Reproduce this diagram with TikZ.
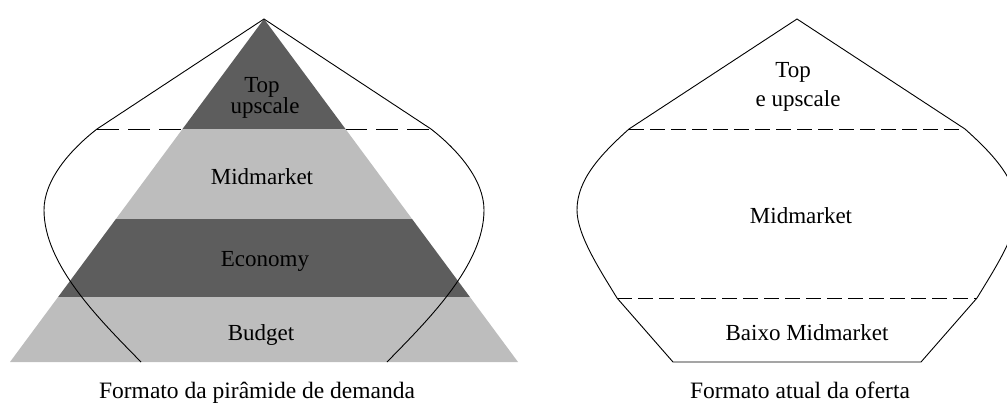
\documentclass[tikz,border=0pt]{standalone}
\usepackage{fontspec}
\setmainfont{Liberation Serif}
\definecolor{darkband}{HTML}{5D5D5D}
\definecolor{lightband}{HTML}{BDBDBD}
\begin{document}
\begin{tikzpicture}[x=1pt,y=-1pt,
  lbl/.style={font=\fontsize{23}{23}\selectfont, anchor=base, inner sep=0pt},
  captxt/.style={font=\fontsize{23.5}{23.5}\selectfont, anchor=base, inner sep=0pt},
  outl/.style={line width=0.9pt, black},
  dashA/.style={line width=0.9pt, dash pattern=on 22pt off 9pt},
  dashB/.style={line width=0.9pt, dash pattern=on 15pt off 6pt},
]
\useasboundingbox (0,0) rectangle (1007,407);
\clip (0,0) rectangle (1007,407);

% ---------- left: demand pyramid ----------
\coordinate (P)  at (264,19);
\coordinate (PL) at (10,362);
\coordinate (PR) at (518,362);
\coordinate (L1) at (182.5,129); \coordinate (R1) at (345.5,129);
\coordinate (L2) at (115.9,219); \coordinate (R2) at (412.1,219);
\coordinate (L3) at (58.1,297);  \coordinate (R3) at (469.9,297);

\coordinate (LA) at (97,129);  \coordinate (RA) at (431,129);
\coordinate (LB) at (44,210);  \coordinate (RB) at (484,210);
\coordinate (LD) at (141,362); \coordinate (RD) at (387,362);

\draw[dashA] (LA) -- (RA);

\fill[darkband]  (P) -- (L1) -- (R1) -- cycle;
\fill[lightband] (L1) -- (R1) -- (R2) -- (L2) -- cycle;
\fill[darkband]  (L2) -- (R2) -- (R3) -- (L3) -- cycle;
\fill[lightband] (L3) -- (R3) -- (PR) -- (PL) -- cycle;

\draw[outl] (LD) .. controls (100,320) and (44,265) .. (LB)
  .. controls (44,180) and (70,150) .. (LA) -- (P) -- (RA)
  .. controls (458,150) and (484,180) .. (RB)
  .. controls (484,265) and (428,320) .. (RD);

\node[lbl] (ltop) at (262,92) {Top};
\node[lbl] (lups) at (265,113) {upscale};
\node[lbl] (lmid) at (262,184) {Midmarket};
\node[lbl] (leco) at (265,266) {Economy};
\node[lbl] (lbud) at (261,340) {Budget};
\node[captxt] (lcap) at (257,398) {Formato da pirâmide de demanda};

% ---------- right: current supply ----------
\coordinate (Q)   at (797,19);
\coordinate (SA)  at (629,129);  \coordinate (TA) at (965,129);
\coordinate (SB)  at (577,210);  \coordinate (TB) at (1017,210);
\coordinate (SC)  at (617,298);  \coordinate (TC) at (977,298);
\coordinate (SD)  at (673,362);  \coordinate (TD) at (921,362);

\draw[dashB] (SA) -- (TA);
\draw[dashB] (SC) -- (TC);

\draw[outl] (SD) -- (SC) .. controls (600,270) and (577,235) .. (SB)
  .. controls (577,180) and (600,155) .. (SA) -- (Q) -- (TA)
  .. controls (994,155) and (1017,180) .. (TB)
  .. controls (1017,235) and (994,270) .. (TC) -- (TD) -- cycle;

\node[lbl] (rtop) at (793,77) {Top};
\node[lbl] (rups) at (798,106) {e upscale};
\node[lbl] (rmid) at (801,223) {Midmarket};
\node[lbl] (rlow) at (807,340) {Baixo Midmarket};
\node[captxt] (rcap) at (800,398) {Formato atual da oferta};
\end{tikzpicture}
\end{document}
